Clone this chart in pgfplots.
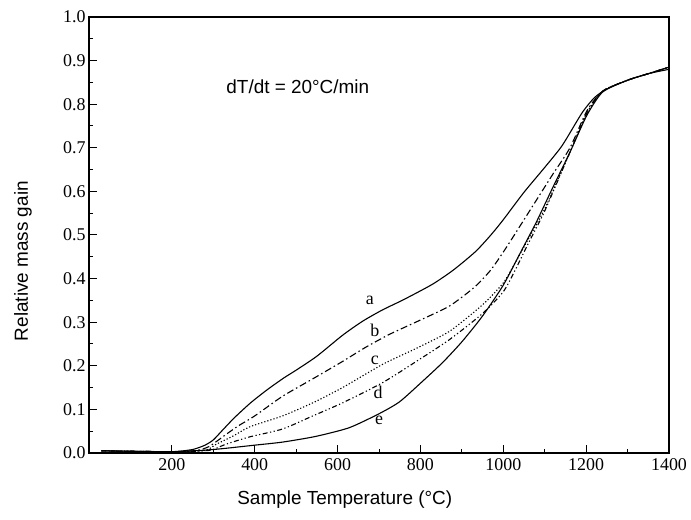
\documentclass[border=0pt]{standalone}
\usepackage{fontspec}
\setmainfont{Liberation Serif}
\newfontfamily\arial{Liberation Sans}
\usepackage{pgfplots}
\pgfplotsset{compat=1.18}
\begin{document}
\begin{tikzpicture}
\useasboundingbox (-89bp,-67bp) rectangle (602bp,453bp);
\begin{axis}[
  at={(0,0)}, anchor=south west,
  scale only axis, width=580bp, height=436bp,
  xmin=0, xmax=1400, ymin=0, ymax=1,
  xtick={200,400,...,1400},
  ytick={0,0.1,...,1.0},
  minor x tick num=1, minor y tick num=1,
  xtick pos=left, ytick pos=left,
  tick align=inside,
  major tick length=8bp, minor tick length=4.5bp,
  every tick/.style={black, line width=1bp},
  axis line style={line width=1.2bp},
  /pgf/number format/assume math mode=true,
  xticklabel style={/pgf/number format/1000 sep={}, font=\fontsize{18}{20}\selectfont, yshift=-2bp},
  yticklabel style={/pgf/number format/fixed, /pgf/number format/fixed zerofill, /pgf/number format/precision=1, font=\fontsize{18}{20}\selectfont},
  xlabel={Sample Temperature (\textdegree C)},
  ylabel={Relative mass gain},
  xlabel style={font=\arial\fontsize{19}{22}\selectfont, at={(axis description cs:0.441,-0.108)}, anchor=center},
  ylabel style={font=\arial\fontsize{19}{22}\selectfont, at={(axis description cs:-0.114,0.44)}, anchor=center},
  every axis plot/.append style={line width=1.1bp, black, smooth, tension=0.4, mark=none},
  clip=false,
]
% a
\addplot[solid] coordinates {(30,0.005) (100,0.004) (200,0.003) (250,0.008) (280,0.018) (300,0.03) (320,0.05) (350,0.08) (390,0.115) (430,0.145) (470,0.172) (500,0.19) (550,0.222) (612,0.27) (660,0.302) (708,0.328) (760,0.352) (829,0.387) (880,0.42) (933,0.462) (970,0.5) (1000,0.535) (1050,0.598) (1100,0.655) (1142,0.705) (1190,0.78) (1220,0.815) (1250,0.835) (1300,0.855) (1350,0.87) (1400,0.88)};
% b
\addplot[dash pattern=on 7bp off 3bp on 1.5bp off 3bp] coordinates {(30,0.005) (200,0.003) (260,0.006) (290,0.015) (330,0.042) (360,0.062) (400,0.085) (467,0.13) (540,0.17) (612,0.21) (667,0.242) (725,0.272) (800,0.305) (870,0.337) (930,0.38) (970,0.42) (1005,0.468) (1040,0.52) (1080,0.58) (1120,0.64) (1161,0.70) (1202,0.785) (1240,0.83) (1300,0.855) (1350,0.87) (1400,0.885)};
% c
\addplot[dash pattern=on 1.2bp off 2bp] coordinates {(30,0.005) (200,0.003) (280,0.006) (307,0.02) (350,0.04) (388,0.06) (467,0.085) (540,0.115) (612,0.15) (708,0.203) (790,0.24) (870,0.279) (950,0.34) (1000,0.39) (1029,0.437) (1060,0.49) (1100,0.56) (1161,0.69) (1202,0.78) (1240,0.83) (1300,0.855) (1350,0.87) (1400,0.885)};
% d
\addplot[dash pattern=on 5bp off 2.5bp on 1.2bp off 2.5bp on 1.2bp off 2.5bp] coordinates {(30,0.005) (200,0.003) (290,0.006) (330,0.02) (388,0.037) (467,0.055) (540,0.085) (612,0.115) (708,0.161) (790,0.21) (870,0.26) (950,0.32) (1000,0.37) (1029,0.42) (1060,0.48) (1100,0.555) (1161,0.69) (1202,0.78) (1240,0.83) (1300,0.855) (1350,0.87) (1400,0.885)};
% e
\addplot[solid] coordinates {(30,0.005) (200,0.003) (300,0.008) (400,0.018) (467,0.025) (547,0.038) (628,0.058) (700,0.09) (749,0.117) (800,0.16) (853,0.207) (900,0.255) (949,0.313) (1000,0.385) (1046,0.468) (1080,0.53) (1120,0.61) (1161,0.69) (1202,0.775) (1240,0.828) (1300,0.855) (1350,0.87) (1400,0.885)};
\node[font=\arial\fontsize{19}{22}\selectfont] at (axis cs:504,0.839) {dT/dt = 20\textdegree C/min};
\node[font=\fontsize{18}{20}\selectfont] at (axis cs:678,0.351) {a};
\node[font=\fontsize{18}{20}\selectfont] at (axis cs:690,0.282) {b};
\node[font=\fontsize{18}{20}\selectfont] at (axis cs:690,0.213) {c};
\node[font=\fontsize{18}{20}\selectfont] at (axis cs:698,0.138) {d};
\node[font=\fontsize{18}{20}\selectfont] at (axis cs:700,0.076) {e};
\end{axis}
\end{tikzpicture}
\end{document}
